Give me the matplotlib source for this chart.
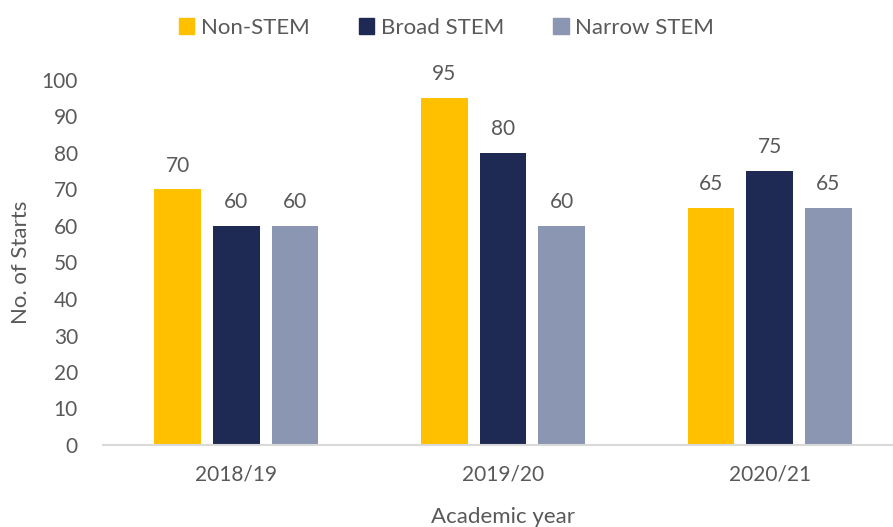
import matplotlib.pyplot as plt
import numpy as np
from matplotlib.patches import Patch

plt.rcParams['font.family'] = ['Lato', 'DejaVu Sans']

years = ["2018/19", "2019/20", "2020/21"]
series = ["Non-STEM", "Broad STEM", "Narrow STEM"]
non_stem = [70, 95, 65]
broad_stem = [60, 80, 75]
narrow_stem = [60, 60, 65]
colors = ["#FFC000", "#1F2A54", "#8B96B2"]
txt = "#595959"

fig = plt.figure(figsize=(8.93, 5.27), dpi=100)
# plot area runs a little past the right edge, like the original
ax = fig.add_axes([103 / 893, 82 / 527, 800 / 893, 365 / 527])

x = np.arange(len(years))
w = 0.174
pitch = 0.22
for i, (vals, c) in enumerate(zip([non_stem, broad_stem, narrow_stem], colors)):
    pos = x + (i - 1) * pitch
    ax.bar(pos, vals, width=w, color=c)
    for p, v in zip(pos, vals):
        ax.text(p, v + 3.8, str(v), ha="center", va="bottom", fontsize=15, color=txt)

ax.set_xlim(-0.5, 2.5)
ax.set_ylim(0, 100)
ax.set_yticks(range(0, 101, 10))
ax.set_xticks(x)
ax.set_xticklabels(years)
ax.tick_params(axis="both", length=0, labelsize=15, colors=txt)
ax.tick_params(axis="x", pad=14)
ax.tick_params(axis="y", pad=18)
for s in ["top", "right", "left"]:
    ax.spines[s].set_visible(False)
ax.spines["bottom"].set_color("#D9D9D9")
ax.spines["bottom"].set_linewidth(1.5)

ax.set_ylabel("No. of Starts", fontsize=16, color=txt, labelpad=8)
ax.set_xlabel("Academic year", fontsize=16, color=txt, labelpad=16)

handles = [Patch(color=c) for c in colors]
fig.legend(handles, series, loc="center", bbox_to_anchor=(0.5, 1 - 28 / 527),
           ncol=3, frameon=False, fontsize=16, labelcolor=txt,
           handlelength=0.7, handleheight=0.7, handletextpad=0.3, columnspacing=2.2)

fig.savefig("out.png", dpi=100)
